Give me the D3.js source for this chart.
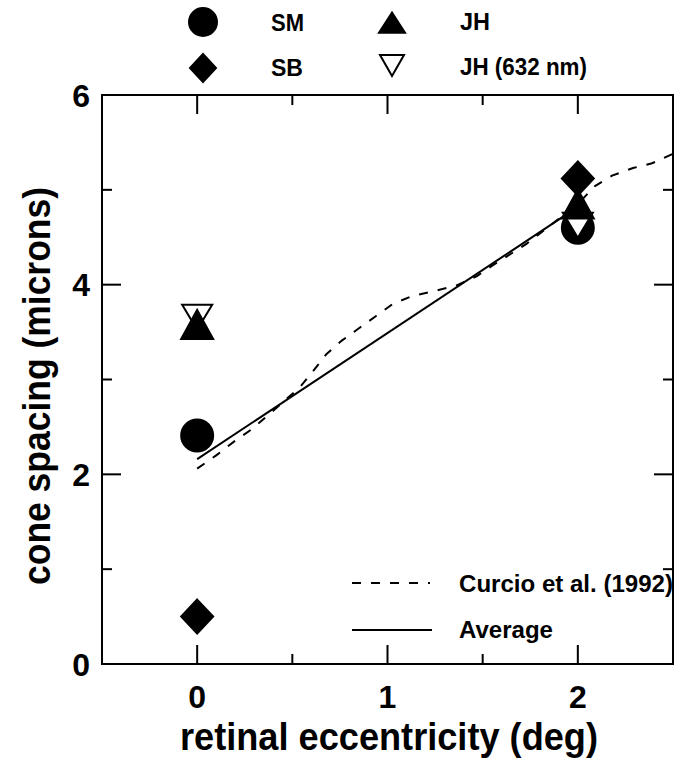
<!DOCTYPE html>
<html>
<head>
<meta charset="utf-8">
<script src="https://cdn.jsdelivr.net/npm/d3@7"></script>
<style>
  body { margin: 0; background: #fff; }
  text { font-family: "Liberation Sans", Arial, sans-serif; font-weight: bold; fill: #000; }
</style>
</head>
<body>
<svg id="chart" width="678" height="760"></svg>
<script>
// eccentricity (deg) of the measured points
var ecc = [0, 2];
var smVals = [2.41, 4.6];
var sbVals = [0.5, 5.12];
var jhVals = [3.53, 4.8];
var jh632Vals = [3.7, 4.67];
var avgVals = [2.16, 4.82];

// Curcio et al. (1992) curve
var curcioX = [0, 0.10, 0.19, 0.29, 0.37, 0.45, 0.54, 0.61, 0.68, 0.76, 0.85, 0.94, 1.03, 1.13, 1.26, 1.36, 1.47, 1.55, 1.73, 2.0, 2.09, 2.18, 2.29, 2.39, 2.5];
var curcioY = [2.06, 2.2, 2.34, 2.48, 2.62, 2.76, 2.92, 3.09, 3.27, 3.41, 3.54, 3.67, 3.8, 3.88, 3.94, 3.99, 4.09, 4.2, 4.43, 4.85, 5.04, 5.15, 5.23, 5.28, 5.38];

var xTicks = [0, 1, 2];
var xMinor = [0.5, 1.5];
var yTicks = [0, 2, 4, 6];
var yMinor = [1, 3, 5];

var svg = d3.select("#chart");

var margin = { top: 95, right: 5, bottom: 96, left: 102 };
var width = +svg.attr("width") - margin.left - margin.right;
var height = +svg.attr("height") - margin.top - margin.bottom;

var x = d3.scaleLinear().domain([-0.5, 2.5]).range([0, width]);
var y = d3.scaleLinear().domain([0, 6]).range([height, 0]);

var g = svg.append("g")
    .attr("transform", "translate(" + margin.left + "," + margin.top + ")");

// frame
g.append("rect")
    .attr("width", width)
    .attr("height", height)
    .style("fill", "none")
    .style("stroke", "#000")
    .style("stroke-width", 2);

var majorLen = 19, minorLen = 10;

function tickSet(vals, len) {
    vals.forEach(function(v) {
        // bottom and top
        g.append("line").attr("x1", x(v)).attr("x2", x(v)).attr("y1", height).attr("y2", height - len);
        g.append("line").attr("x1", x(v)).attr("x2", x(v)).attr("y1", 0).attr("y2", len);
    });
}
function tickSetY(vals, len) {
    vals.forEach(function(v) {
        g.append("line").attr("x1", 0).attr("x2", len).attr("y1", y(v)).attr("y2", y(v));
        g.append("line").attr("x1", width).attr("x2", width - len).attr("y1", y(v)).attr("y2", y(v));
    });
}
tickSet(xTicks, majorLen);
tickSet(xMinor, minorLen);
tickSetY(yTicks, majorLen);
tickSetY(yMinor, minorLen);
g.selectAll("line").style("stroke", "#000").style("stroke-width", 2);

// tick labels
g.selectAll(".xlab").data(xTicks).enter().append("text")
    .attr("x", function(d) { return x(d); })
    .attr("y", height + 44)
    .attr("text-anchor", "middle")
    .style("font-size", "32px")
    .text(function(d) { return d; });

g.selectAll(".ylab").data(yTicks).enter().append("text")
    .attr("x", -12)
    .attr("y", function(d) { return y(d); })
    .attr("dy", "0.36em")
    .attr("text-anchor", "end")
    .style("font-size", "32px")
    .text(function(d) { return d; });

// axis titles
svg.append("text")
    .attr("x", 389)
    .attr("y", 750)
    .attr("text-anchor", "middle")
    .attr("textLength", 418)
    .attr("lengthAdjust", "spacingAndGlyphs")
    .style("font-size", "38px")
    .text("retinal eccentricity (deg)");

svg.append("text")
    .attr("transform", "translate(50,386) rotate(-90)")
    .attr("text-anchor", "middle")
    .attr("textLength", 398)
    .attr("lengthAdjust", "spacingAndGlyphs")
    .style("font-size", "38px")
    .text("cone spacing (microns)");

// lines
var curcio = curcioX.map(function(d, i) { return [d, curcioY[i]]; });
var line = d3.line()
    .x(function(d) { return x(d[0]); })
    .y(function(d) { return y(d[1]); });

g.append("path")
    .datum(curcio)
    .attr("d", line)
    .style("fill", "none")
    .style("stroke", "#000")
    .style("stroke-width", 2)
    .style("stroke-dasharray", "9,10");

g.append("path")
    .datum(ecc.map(function(d, i) { return [d, avgVals[i]]; }))
    .attr("d", line)
    .style("fill", "none")
    .style("stroke", "#000")
    .style("stroke-width", 2);

// symbol paths
function circlePath(r) {
    return "M" + r + ",0A" + r + "," + r + " 0 1,1 " + (-r) + ",0A" + r + "," + r + " 0 1,1 " + r + ",0Z";
}
function diamondPath(w, h) {
    return "M0," + (-h) + "L" + w + ",0L0," + h + "L" + (-w) + ",0Z";
}
function triUpPath(w, h) {
    return "M0," + (-h * 2 / 3) + "L" + w + "," + (h / 3) + "L" + (-w) + "," + (h / 3) + "Z";
}
function triDownPath(w, h) {
    return "M0," + (h * 2 / 3) + "L" + w + "," + (-h / 3) + "L" + (-w) + "," + (-h / 3) + "Z";
}

var series = [
    { vals: sbVals, path: diamondPath(16, 17), fill: "#000" },
    { vals: smVals, path: circlePath(16), fill: "#000" },
    { vals: jh632Vals, path: triDownPath(15, 25), fill: "#fff" },
    { vals: jhVals, path: triUpPath(16, 29), fill: "#000" }
];

series.forEach(function(s) {
    g.selectAll(null).data(ecc).enter().append("path")
        .attr("transform", function(d, i) { return "translate(" + x(d) + "," + y(s.vals[i]) + ")"; })
        .attr("d", s.path)
        .style("fill", s.fill)
        .style("stroke", "#000")
        .style("stroke-width", 2);
});

// top legend
var legendTop = [
    { label: "SM", sx: 203, sy: 22, tx: 271, ty: 31, tl: 33, path: circlePath(14), fill: "#000" },
    { label: "SB", sx: 203, sy: 68, tx: 271, ty: 76, tl: 32, path: diamondPath(13, 14), fill: "#000" },
    { label: "JH", sx: 392, sy: 26, tx: 460, ty: 30, tl: 30, path: triUpPath(13, 20), fill: "#000" },
    { label: "JH (632 nm)", sx: 392, sy: 62, tx: 460, ty: 75, tl: 127, path: triDownPath(12, 21), fill: "#fff" }
];
legendTop.forEach(function(l) {
    svg.append("path")
        .attr("transform", "translate(" + l.sx + "," + l.sy + ")")
        .attr("d", l.path)
        .style("fill", l.fill)
        .style("stroke", "#000")
        .style("stroke-width", 2);
    svg.append("text")
        .attr("x", l.tx)
        .attr("y", l.ty)
        .attr("textLength", l.tl)
        .attr("lengthAdjust", "spacingAndGlyphs")
        .style("font-size", "24px")
        .text(l.label);
});

// bottom legend
svg.append("line")
    .attr("x1", 352).attr("x2", 430).attr("y1", 583).attr("y2", 583)
    .style("stroke", "#000").style("stroke-width", 2).style("stroke-dasharray", "9,10");
svg.append("text")
    .attr("x", 459).attr("y", 592)
    .attr("textLength", 214)
    .attr("lengthAdjust", "spacingAndGlyphs")
    .style("font-size", "24px")
    .text("Curcio et al. (1992)");
svg.append("line")
    .attr("x1", 352).attr("x2", 432).attr("y1", 630).attr("y2", 630)
    .style("stroke", "#000").style("stroke-width", 2);
svg.append("text")
    .attr("x", 459).attr("y", 638)
    .attr("textLength", 94)
    .attr("lengthAdjust", "spacingAndGlyphs")
    .style("font-size", "24px")
    .text("Average");
</script>
</body>
</html>
